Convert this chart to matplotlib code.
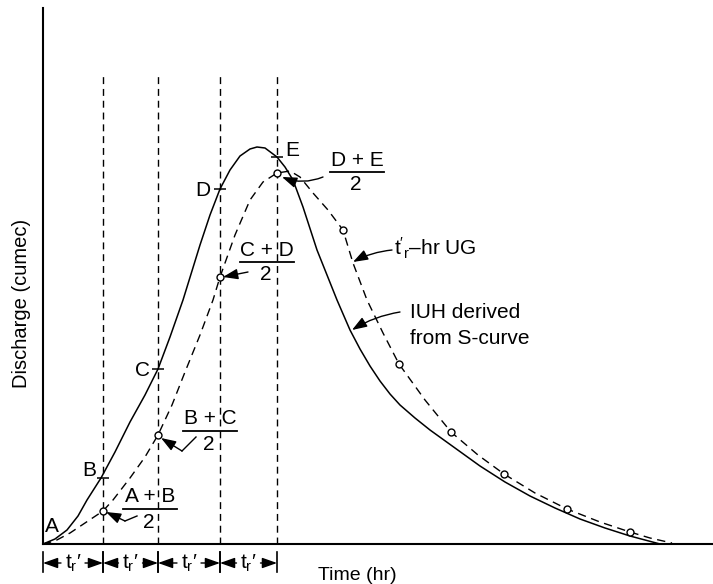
import matplotlib
matplotlib.use("Agg")
import matplotlib.pyplot as plt

plt.rcParams['font.family'] = ['Liberation Sans', 'DejaVu Sans']
plt.rcParams['mathtext.fontset'] = 'custom'
plt.rcParams['mathtext.rm'] = 'Liberation Sans'
plt.rcParams['mathtext.it'] = 'Liberation Sans'

# IUH derived from S-curve (solid)
t_iuh = [0, 12, 24, 35, 44, 58, 72, 87, 102, 115, 127, 140, 157, 167, 177, 187, 197, 207,
         214, 222, 234, 242, 250, 260, 274, 294, 307, 317, 327, 337, 347, 357, 372, 387,
         412, 437, 462, 487, 512, 537, 562, 587, 602, 617]
q_iuh = [0, 5, 14, 28, 44, 66, 92, 122, 149, 175, 207, 244, 299, 329, 355, 374, 388, 395,
         397, 396, 387, 377, 364, 337, 294, 244, 214, 195, 178, 163, 150, 139, 126, 114,
         96, 78, 62, 48, 36, 25, 16, 8, 4, 0]

# t'r-hr unit graph (dashed)
t_ug = [0, 12, 27, 42, 60, 70, 87, 102, 115, 129, 142, 157, 170, 177, 192, 207, 220, 234,
        247, 257, 270, 285, 300, 310, 324, 340, 356, 382, 408, 435, 461, 492, 524, 557,
        587, 607, 629]
q_ug = [0, 3, 11, 21, 33, 44, 66, 87, 109, 139, 172, 209, 244, 267, 309, 344, 362, 371,
        373, 367, 351, 334, 314, 281, 244, 211, 180, 144, 112, 89, 70, 51, 35, 22,
        12, 6, 1]

# averaged ordinates (circles)
t_avg = [60, 115, 177, 234, 300, 356, 408, 461, 524, 587]
q_avg = [33, 109, 267, 371, 314, 180, 112, 70, 35, 12]

# S-curve offsets A..E marked on the IUH
t_marks = [60, 115, 177, 234]
q_marks = [66, 175, 355, 387]
mark_names = ['B', 'C', 'D', 'E']

# vertical lines every t_r'
t_lines = [0, 60, 115, 177, 234]
line_top = 468

fig = plt.figure(figsize=(7.13, 5.84), dpi=100)
ax = fig.add_axes([43 / 713, 40 / 584, 670 / 713, 536 / 584])
ax.set_xlim(0, 670)
ax.set_ylim(0, 536)
for s in ['top', 'right']:
    ax.spines[s].set_visible(False)
ax.spines['left'].set_linewidth(1.5)
ax.spines['bottom'].set_linewidth(1.5)
ax.set_xticks([])
ax.set_yticks([])

for x in t_lines[1:]:
    ax.plot([x, x], [0, line_top], color='black', lw=1, dashes=(5, 3.5))

ax.plot(t_iuh, q_iuh, color='black', lw=1.1)
ax.plot(t_ug, q_ug, color='black', lw=1.0, dashes=(6, 4))
ax.plot(t_avg, q_avg, 'o', ms=5, mfc='white', mec='black', mew=1.0)
ax.plot(t_marks, q_marks, '_', ms=9, mew=1.1, color='black')

fs = 15
ax.text(9, 17, 'A', fontsize=fs, ha='center', va='center')
offs = [(-14, 7), (-16, -1), (-17, -2), (15, 7)]
for x, y, n, o in zip(t_marks, q_marks, mark_names, offs):
    ax.text(x + o[0], y + o[1], n, fontsize=fs, ha='center', va='center')

head = '-|>,head_length=0.9,head_width=0.32'


def frac(x, y, top, half):
    ax.text(x, y + 12, top, fontsize=fs, ha='center', va='center')
    ax.plot([x - half, x + half], [y, y], color='black', lw=1.3)
    ax.text(x - 1, y - 13, '2', fontsize=fs, ha='center', va='center')


def arrow(x0, y0, x1, y1, rad=0.0):
    ax.annotate('', xy=(x1, y1), xytext=(x0, y0),
                arrowprops=dict(arrowstyle=head, color='black', lw=1.0,
                                shrinkA=0, shrinkB=0,
                                connectionstyle='arc3,rad=%s' % rad))


frac(107, 35, 'A + B', 27)
ax.plot([94, 82], [28, 23], color='black', lw=1.0)
arrow(82, 23, 63, 32)

frac(167, 113, 'B + C', 27)
ax.plot([153, 139], [107, 93], color='black', lw=1.0)
arrow(139, 93, 118, 106)

frac(224, 282, 'C + D', 27)
arrow(205, 272, 180, 267)

frac(314, 372, 'D + E', 27)
arrow(280, 367, 239, 367, rad=-0.2)

ax.text(351, 296, r"$\mathregular{t'_r}$–hr UG", fontsize=fs, ha='left', va='center')
arrow(349, 294, 310, 282, rad=0.1)

ax.text(367, 231, 'IUH derived', fontsize=fs, ha='left', va='center')
ax.text(367, 205, 'from S-curve', fontsize=fs, ha='left', va='center')
arrow(357, 232, 309, 214, rad=0.1)

# t_r' spacing along the time axis
for a, b in zip(t_lines[:-1], t_lines[1:]):
    m = (a + b) / 2
    ax.plot([a, a], [-8, -28], color='black', lw=1.2, clip_on=False)
    ax.plot([b, b], [-8, -28], color='black', lw=1.2, clip_on=False)
    ax.text(m, -19, r"t$_\mathregular{r}$′", fontsize=fs, ha='center', va='center')
    for end, start in [(a, m - 12), (b, m + 12)]:
        ax.annotate('', xy=(end, -19), xytext=(start, -19), annotation_clip=False,
                    arrowprops=dict(arrowstyle=head, color='black', lw=1.0,
                                    shrinkA=0, shrinkB=0))

ax.text(314, -31, 'Time (hr)', fontsize=14, ha='center', va='center', clip_on=False)
fig.text(22 / 713, 1 - 303 / 584, 'Discharge (cumec)', fontsize=14.5, rotation=90,
         ha='center', va='center')

plt.savefig('out.png', dpi=100)
